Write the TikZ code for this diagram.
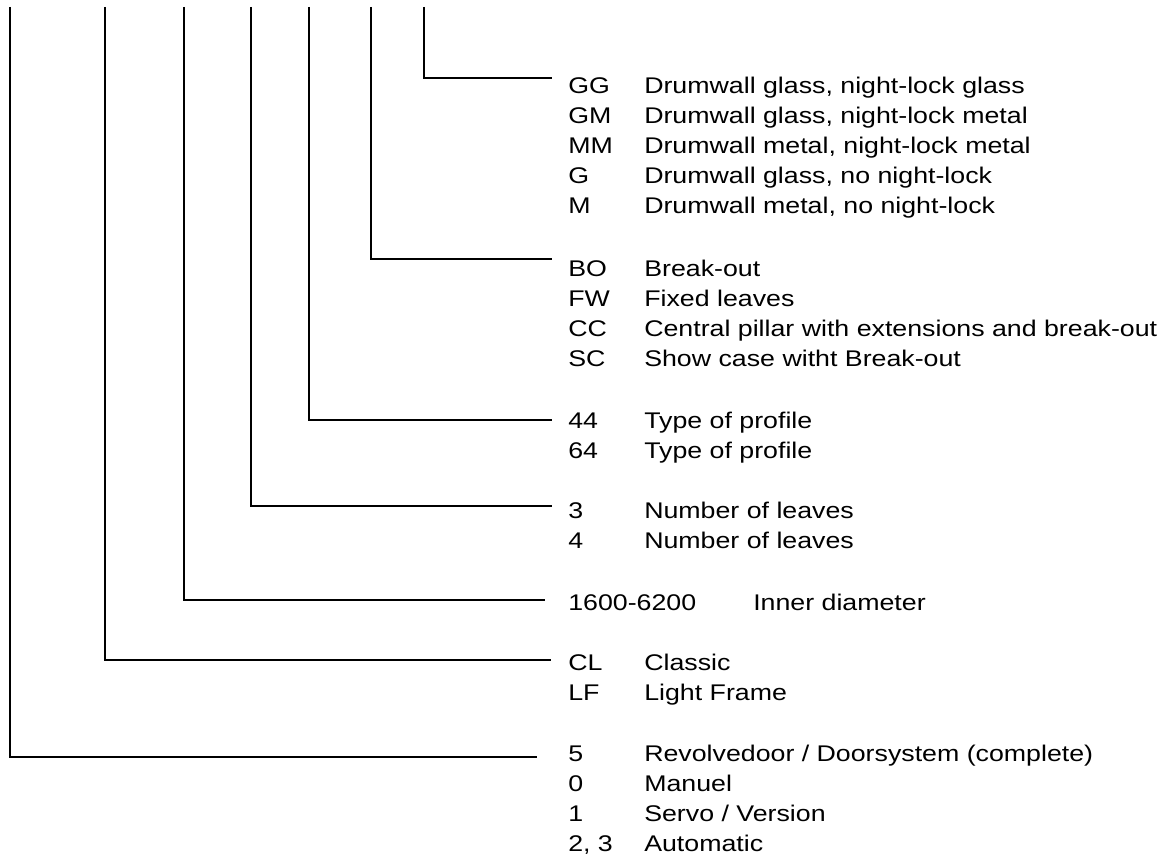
\documentclass[tikz,border=0pt]{standalone}
\usepackage{fontspec}
\setmainfont{Liberation Sans}[FakeStretch=1.18]
\begin{document}
\begin{tikzpicture}[x=0.75pt, y=-0.75pt,
    lead/.style={line width=1.4pt, shorten >=12pt},
    txt/.style={anchor=base west, inner sep=0pt, font=\fontsize{17}{20}\selectfont}]
    \useasboundingbox (0,0) rectangle (1162,859);

    % 1. Drumwall
    \node[txt] (gg) at (568,94) {GG};
    \node[txt] (gg-t) at (644,94) {Drumwall glass, night-lock glass};
    \node[txt] (gm) at (568,124) {GM};
    \node[txt] (gm-t) at (644,124) {Drumwall glass, night-lock metal};
    \node[txt] (mm) at (568,154) {MM};
    \node[txt] (mm-t) at (644,154) {Drumwall metal, night-lock metal};
    \node[txt] (g) at (568,184) {G};
    \node[txt] (g-t) at (644,184) {Drumwall glass, no night-lock};
    \node[txt] (m) at (568,214) {M};
    \node[txt] (m-t) at (644,214) {Drumwall metal, no night-lock};

    % 2. Break-out
    \node[txt] (bo) at (568,276) {BO};
    \node[txt] (bo-t) at (644,276) {Break-out};
    \node[txt] (fw) at (568,306) {FW};
    \node[txt] (fw-t) at (644,306) {Fixed leaves};
    \node[txt] (cc) at (568,336) {CC};
    \node[txt] (cc-t) at (644,336) {Central pillar with extensions and break-out};
    \node[txt] (sc) at (568,366) {SC};
    \node[txt] (sc-t) at (644,366) {Show case witht Break-out};

    % 3. Profile
    \node[txt] (p44) at (568,428) {44};
    \node[txt] (p44-t) at (644,428) {Type of profile};
    \node[txt] (p64) at (568,458) {64};
    \node[txt] (p64-t) at (644,458) {Type of profile};

    % 4. Leaves
    \node[txt] (l3) at (568,518) {3};
    \node[txt] (l3-t) at (644,518) {Number of leaves};
    \node[txt] (l4) at (568,548) {4};
    \node[txt] (l4-t) at (644,548) {Number of leaves};

    % 5. Diameter
    \node[txt] (dia) at (568,610) {1600-6200};
    \node[txt] (dia-t) at (753,610) {Inner diameter};

    % 6. Frame
    \node[txt] (cl) at (568,670) {CL};
    \node[txt] (cl-t) at (644,670) {Classic};
    \node[txt] (lf) at (568,700) {LF};
    \node[txt] (lf-t) at (644,700) {Light Frame};

    % 7. Door system
    \node[txt] (d5) at (568,761) {5};
    \node[txt] (d5-t) at (644,761) {Revolvedoor / Doorsystem (complete)};
    \node[txt] (d0) at (568,791) {0};
    \node[txt] (d0-t) at (644,791) {Manuel};
    \node[txt] (d1) at (568,821) {1};
    \node[txt] (d1-t) at (644,821) {Servo / Version};
    \node[txt] (d23) at (568,851) {2, 3};
    \node[txt] (d23-t) at (644,851) {Automatic};

    % 8. Leads from the top
    \coordinate (t1) at (424,7);
    \coordinate (t2) at (371,7);
    \coordinate (t3) at (309,7);
    \coordinate (t4) at (251,7);
    \coordinate (t5) at (184,7);
    \coordinate (t6) at (105,7);
    \coordinate (t7) at (10,7);
    \draw[lead] (t1) |- ([yshift=6pt]gg.west);
    \draw[lead] (t2) |- ([yshift=6.75pt]bo.west);
    \draw[lead] (t3) |- (p44.west);
    \draw[lead] (t4) |- ([yshift=3pt]l3.west);
    \draw[lead, shorten >=17pt] (t5) |- ([yshift=1.5pt]dia.west);
    \draw[lead, shorten >=13pt] (t6) |- ([yshift=1.5pt]cl.west);
    \draw[lead, shorten >=23pt] (t7) |- ([yshift=-3pt]d5.west);
\end{tikzpicture}
\end{document}
